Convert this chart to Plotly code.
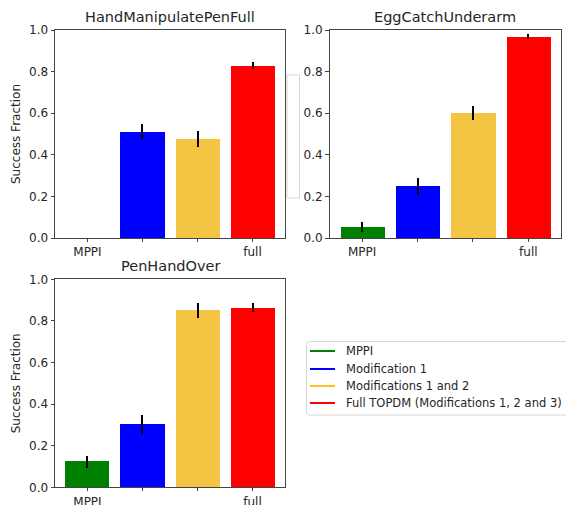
import plotly.graph_objects as go

W, H = 566, 505

methods = ["MPPI", "Modification 1", "Modifications 1 and 2", "Full TOPDM (Modifications 1, 2 and 3)"]
colors = ["#008000", "#0000ff", "#f4c542", "#ff0000"]
legend_colors = ["#008000", "#0000ff", "#ffc125", "#ff0000"]
tick_labels = ["MPPI", "", "", "full"]
positions = [0, 1, 2, 3]

tasks = ["HandManipulatePenFull", "EggCatchUnderarm", "PenHandOver"]
pen_full_vals = [0.0, 0.512, 0.476, 0.829]
pen_full_err = [0.0, 0.035, 0.037, 0.016]
egg_vals = [0.053, 0.248, 0.599, 0.968]
egg_err = [0.024, 0.042, 0.034, 0.011]
handover_vals = [0.123, 0.302, 0.851, 0.863]
handover_err = [0.029, 0.044, 0.036, 0.021]

series = [(pen_full_vals, pen_full_err), (egg_vals, egg_err), (handover_vals, handover_err)]

# pixel boxes of axes in window coords: (left, right, top, bottom)
boxes = [(55, 285, 30, 238), (329.5, 561, 30, 238), (55, 285, 279.3, 487.3)]

FONT = "DejaVu Sans"
TXT = "#262626"


def px(x):
    return x / W


def py(y):
    return 1 - y / H


fig = go.Figure()
layout = dict(
    width=W, height=H, margin=dict(l=0, r=0, t=0, b=0, autoexpand=False),
    paper_bgcolor="white", plot_bgcolor="white",
    font=dict(family=FONT, size=12, color=TXT),
    showlegend=False, bargap=0,
    annotations=[], shapes=[],
)

for i, (task, (vals, errs), box) in enumerate(zip(tasks, series, boxes)):
    l, r, t, b = box
    sfx = "" if i == 0 else str(i + 1)
    fig.add_trace(go.Bar(
        x=positions, y=vals, width=0.8,
        marker=dict(color=colors, line=dict(width=0)),
        error_y=dict(type="data", array=errs, visible=True, color="black", thickness=2, width=0),
        xaxis="x" + sfx, yaxis="y" + sfx, showlegend=False, hoverinfo="skip",
    ))
    axcommon = dict(showline=True, linecolor="#444", linewidth=1, mirror=True,
                    ticks="outside", tickcolor="#444", showgrid=False, zeroline=False,
                    automargin=False, tickfont=dict(size=12, color=TXT))
    layout["xaxis" + sfx] = dict(domain=[px(l), px(r)], range=[-0.59, 3.59], ticklen=3,
                                 tickvals=positions, ticktext=tick_labels,
                                 anchor="y" + sfx, **axcommon)
    ydict = dict(domain=[py(b), py(t)], range=[0, 1], dtick=0.2, tickformat=".1f", ticklen=3.5,
                 anchor="x" + sfx, **axcommon)
    if i != 1:
        ydict["title"] = dict(text="Success Fraction", font=dict(size=12, color=TXT), standoff=5)
    layout["yaxis" + sfx] = ydict
    layout["annotations"].append(dict(
        text=task, xref="paper", yref="paper", x=px((l + r) / 2), y=py(t - 3),
        xanchor="center", yanchor="bottom", showarrow=False,
        font=dict(size=14.5, color=TXT)))

# legend (drawn box with line handles and labels)
lx0, ly0, ly1 = 306.5, 341.5, 415
lx1 = 600
rr = 3
path = (f"M {px(lx0 + rr)},{py(ly0)} L {px(lx1)},{py(ly0)} L {px(lx1)},{py(ly1)} "
        f"L {px(lx0 + rr)},{py(ly1)} Q {px(lx0)},{py(ly1)} {px(lx0)},{py(ly1 - rr)} "
        f"L {px(lx0)},{py(ly0 + rr)} Q {px(lx0)},{py(ly0)} {px(lx0 + rr)},{py(ly0)} Z")
layout["shapes"].append(dict(type="path", xref="paper", yref="paper", path=path,
                             line=dict(color="#d6d6d6", width=1), fillcolor="white"))
row_y = [351, 369, 386, 403]
for name, c, yy in zip(methods, legend_colors, row_y):
    layout["shapes"].append(dict(type="line", xref="paper", yref="paper",
                                 x0=px(310), x1=px(335), y0=py(yy), y1=py(yy),
                                 line=dict(color=c, width=2)))
    layout["annotations"].append(dict(text=name, xref="paper", yref="paper",
                                      x=px(343.5), y=py(yy), xanchor="left", yanchor="middle",
                                      showarrow=False, font=dict(size=11.5, color=TXT)))

# faint ghost box between the top panels
layout["shapes"].append(dict(type="rect", xref="paper", yref="paper",
                             x0=px(287), x1=px(299.5), y0=py(198), y1=py(75),
                             line=dict(color="#d8d8d8", width=1), fillcolor="rgba(0,0,0,0)",
                             layer="below"))

fig.update_layout(**layout)
fig.write_html("out.html", config={"displayModeBar": False},
               post_script="document.body.style.margin='0';")
